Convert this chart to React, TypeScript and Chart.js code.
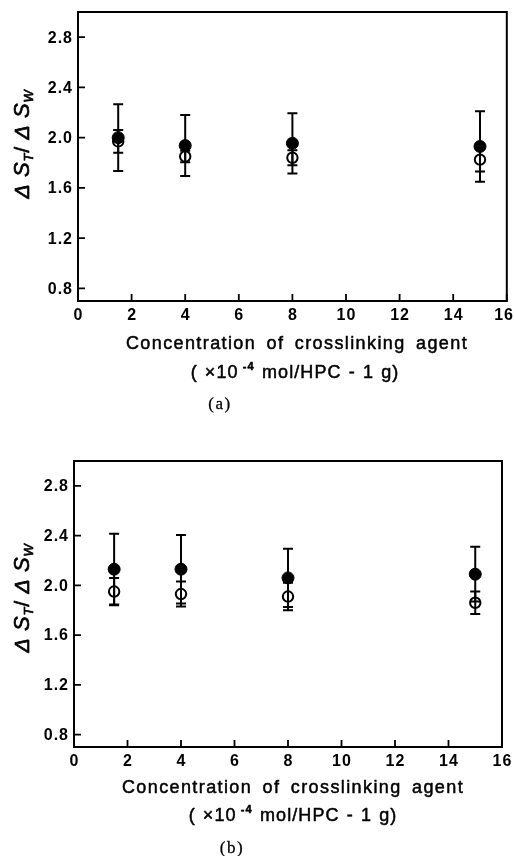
import React, { useEffect, useRef } from "react";
import { Chart, registerables } from "chart.js";

Chart.register(...registerables);

// ---- data ----
const concentrations = [1.5, 4, 8, 15];

const filledA = [2.0, 1.937, 1.955, 1.93];
const filledErrA = [0.265, 0.243, 0.24, 0.28];
const openA = [1.97, 1.85, 1.84, 1.825];
const openErrA = [0.09, 0.045, 0.06, 0.095];

const filledB = [2.13, 2.13, 2.06, 2.09];
const filledErrB = [0.285, 0.275, 0.235, 0.22];
const openB = [1.95, 1.93, 1.91, 1.86];
const openErrB = [0.11, 0.1, 0.11, 0.09];

const xTickValues = [0, 2, 4, 6, 8, 10, 12, 14, 16];
const yTickValues = [0.8, 1.2, 1.6, 2.0, 2.4, 2.8];

const xTitleText = "Concentration of crosslinking agent";
const unitPre = "( ×10";
const unitSup = "-4";
const unitPost = " mol/HPC - 1 g)";

const SANS = "'Liberation Sans', Arial, sans-serif";
const SERIF = "'Liberation Serif', 'Times New Roman', serif";

type Seg = { t: string; font: string; dy?: number };

function drawSegs(
  ctx: CanvasRenderingContext2D,
  segs: Seg[],
  x: number,
  y: number,
  spacing: number,
  wordSpacing: number,
  stroke: number
) {
  ctx.save();
  (ctx as any).letterSpacing = spacing + "px";
  (ctx as any).wordSpacing = wordSpacing + "px";
  ctx.textAlign = "left";
  ctx.textBaseline = "alphabetic";
  ctx.fillStyle = "#000";
  ctx.strokeStyle = "#000";
  ctx.lineWidth = stroke;
  ctx.lineJoin = "round";
  let total = 0;
  const widths = segs.map((s) => {
    ctx.font = s.font;
    const w = ctx.measureText(s.t).width;
    total += w;
    return w;
  });
  let cx = x - total / 2;
  segs.forEach((s, i) => {
    ctx.font = s.font;
    ctx.fillText(s.t, cx, y + (s.dy || 0));
    if (stroke > 0) ctx.strokeText(s.t, cx, y + (s.dy || 0));
    cx += widths[i];
  });
  ctx.restore();
}

type PanelLayout = {
  width: number;
  height: number;
  left: number;
  top: number;
  right: number;
  bottom: number;
  title1: [number, number];
  title2: [number, number];
  panel: [number, number];
  yTitle: [number, number];
  panelLabel: string;
};

const frameAndTextPlugin = {
  id: "frameAndText",
  afterDatasetsDraw(chart: any) {
    const ctx: CanvasRenderingContext2D = chart.ctx;
    const xs = chart.scales.x;
    const ys = chart.scales.y;
    ctx.save();
    ctx.strokeStyle = "#000";
    ctx.lineWidth = 2;
    chart.data.datasets.forEach((ds: any) => {
      const errs: number[] = ds.errors || [];
      ds.data.forEach((p: any, i: number) => {
        const e = errs[i];
        if (e == null) return;
        const px = xs.getPixelForValue(p.x);
        const yTop = ys.getPixelForValue(p.y + e);
        const yBot = ys.getPixelForValue(p.y - e);
        ctx.beginPath();
        ctx.moveTo(px, yTop);
        ctx.lineTo(px, yBot);
        ctx.moveTo(px - 5, yTop);
        ctx.lineTo(px + 5, yTop);
        ctx.moveTo(px - 5, yBot);
        ctx.lineTo(px + 5, yBot);
        ctx.stroke();
      });
    });
    ctx.restore();
  },
  afterDraw(chart: any) {
    const ctx: CanvasRenderingContext2D = chart.ctx;
    const area = chart.chartArea;
    const xs = chart.scales.x;
    const ys = chart.scales.y;
    const L: PanelLayout = chart.options.plugins.frameAndText.layout;
    ctx.save();
    ctx.strokeStyle = "#000";
    ctx.lineWidth = 2;
    ctx.strokeRect(area.left, area.top, area.right - area.left, area.bottom - area.top);
    ctx.lineWidth = 1.8;
    ctx.beginPath();
    xTickValues.forEach((v) => {
      const px = xs.getPixelForValue(v);
      ctx.moveTo(px, area.bottom);
      ctx.lineTo(px, area.bottom - 7);
    });
    yTickValues.forEach((v) => {
      const py = ys.getPixelForValue(v);
      ctx.moveTo(area.left, py);
      ctx.lineTo(area.left + 7, py);
    });
    ctx.stroke();

    // tick labels
    ctx.font = "bold 16px " + SANS;
    (ctx as any).letterSpacing = "1px";
    ctx.fillStyle = "#000";
    ctx.textAlign = "left";
    ctx.textBaseline = "top";
    xTickValues.forEach((v) => {
      const label = String(v);
      const px = xs.getPixelForValue(v);
      const w = ctx.measureText(label).width - 1;
      let lx = px - w / 2;
      if (lx + w > chart.width - 1) lx = chart.width - 1 - w;
      ctx.fillText(label, lx, area.bottom + 7);
    });
    ctx.textBaseline = "middle";
    yTickValues.forEach((v) => {
      const label = v.toFixed(1);
      const py = ys.getPixelForValue(v);
      const w = ctx.measureText(label).width - 1;
      ctx.fillText(label, area.left - 6 - w, py + 1);
    });
    ctx.restore();

    const f18 = "18px " + SANS;
    drawSegs(ctx, [{ t: xTitleText, font: f18 }], L.title1[0], L.title1[1], 1.4, 4, 0.5);
    drawSegs(
      ctx,
      [
        { t: unitPre, font: f18 },
        { t: " " + unitSup, font: "bold 11px " + SANS, dy: -8 },
        { t: unitPost, font: f18 },
      ],
      L.title2[0],
      L.title2[1],
      1.1,
      1,
      0.5
    );
    drawSegs(ctx, [{ t: L.panelLabel, font: "17px " + SERIF }], L.panel[0], L.panel[1], 1.5, 0, 0.3);

    ctx.save();
    ctx.translate(L.yTitle[0], L.yTitle[1]);
    ctx.rotate(-Math.PI / 2);
    const it = "italic 21px " + SANS;
    const itS = "italic 22px " + SANS;
    const sub = "italic 13px " + SANS;
    drawSegs(
      ctx,
      [
        { t: "Δ", font: it },
        { t: " ", font: it },
        { t: "S", font: itS },
        { t: "T", font: sub, dy: 4 },
        { t: "/ ", font: "21px " + SANS },
        { t: "Δ", font: it },
        { t: " ", font: it },
        { t: "S", font: itS },
        { t: "W", font: sub, dy: 4 },
      ],
      0,
      0,
      0.8,
      0,
      0.7
    );
    ctx.restore();
  },
};

function makeConfig(
  filled: number[],
  filledErr: number[],
  open: number[],
  openErr: number[],
  L: PanelLayout
): any {
  return {
    type: "scatter",
    data: {
      datasets: [
        {
          label: "filled",
          data: concentrations.map((x, i) => ({ x, y: filled[i] })),
          errors: filledErr,
          pointRadius: 6,
          pointBackgroundColor: "#000",
          pointBorderColor: "#000",
          pointBorderWidth: 1,
          showLine: false,
        },
        {
          label: "open",
          data: concentrations.map((x, i) => ({ x, y: open[i] })),
          errors: openErr,
          pointRadius: 5.2,
          pointBackgroundColor: "rgba(0,0,0,0)",
          pointBorderColor: "#000",
          pointBorderWidth: 2,
          showLine: false,
        },
      ],
    },
    options: {
      responsive: false,
      animation: false,
      devicePixelRatio: 1,
      layout: {
        padding: { left: 0, top: L.top, right: L.width - L.right, bottom: 0 },
      },
      plugins: {
        legend: { display: false },
        tooltip: { enabled: false },
        title: { display: false },
        frameAndText: { layout: L },
      },
      scales: {
        x: {
          type: "linear",
          min: 0,
          max: 16,
          grid: { display: false, drawTicks: false },
          border: { display: false },
          ticks: { display: false },
          afterBuildTicks: (scale: any) => {
            scale.ticks = xTickValues.map((v) => ({ value: v }));
          },
          afterFit: (scale: any) => {
            scale.height = L.height - L.bottom;
          },
        },
        y: {
          type: "linear",
          min: 0.7,
          max: 3.0,
          grid: { display: false, drawTicks: false },
          border: { display: false },
          ticks: { display: false },
          afterBuildTicks: (scale: any) => {
            scale.ticks = yTickValues.map((v) => ({ value: v }));
          },
          afterFit: (scale: any) => {
            scale.width = L.left;
          },
        },
      },
    },
    plugins: [frameAndTextPlugin],
  };
}

const layoutA: PanelLayout = {
  width: 514,
  height: 420,
  left: 78,
  top: 12,
  right: 508,
  bottom: 301,
  title1: [297, 349],
  title2: [295, 378],
  panel: [220, 409],
  yTitle: [29, 144],
  panelLabel: "(a)",
};

const layoutB: PanelLayout = {
  width: 514,
  height: 436,
  left: 74,
  top: 41,
  right: 502,
  bottom: 327,
  title1: [293, 373],
  title2: [293, 401],
  panel: [232, 433],
  yTitle: [29, 178],
  panelLabel: "(b)",
};

function Panel(props: {
  filled: number[];
  filledErr: number[];
  open: number[];
  openErr: number[];
  layout: PanelLayout;
  top: number;
}) {
  const ref = useRef<HTMLCanvasElement | null>(null);
  useEffect(() => {
    if (!ref.current) return;
    const chart = new Chart(
      ref.current,
      makeConfig(props.filled, props.filledErr, props.open, props.openErr, props.layout)
    );
    return () => chart.destroy();
  }, []);
  return (
    <div
      style={{
        position: "absolute",
        left: 0,
        top: props.top,
        width: props.layout.width,
        height: props.layout.height,
      }}
    >
      <canvas
        ref={ref}
        width={props.layout.width}
        height={props.layout.height}
        style={{ display: "block", width: props.layout.width, height: props.layout.height }}
      />
    </div>
  );
}

export default function App() {
  return (
    <div
      style={{
        position: "absolute",
        left: 0,
        top: 0,
        width: 514,
        height: 856,
        background: "#fff",
        overflow: "hidden",
      }}
    >
      <Panel
        filled={filledA}
        filledErr={filledErrA}
        open={openA}
        openErr={openErrA}
        layout={layoutA}
        top={0}
      />
      <Panel
        filled={filledB}
        filledErr={filledErrB}
        open={openB}
        openErr={openErrB}
        layout={layoutB}
        top={420}
      />
    </div>
  );
}
